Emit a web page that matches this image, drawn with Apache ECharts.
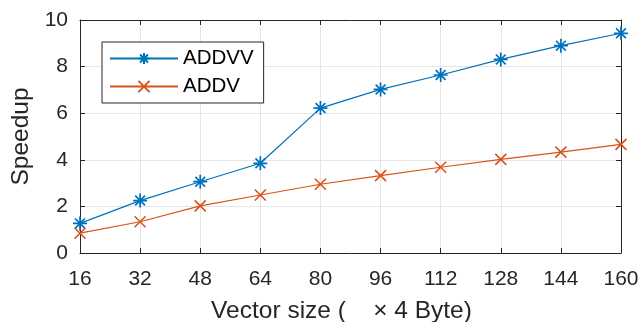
<!DOCTYPE html>
<html><head><meta charset="utf-8">
<script src="https://cdn.jsdelivr.net/npm/echarts@6/dist/echarts.min.js"></script>
<style>html,body{margin:0;padding:0;background:#fff}#c{width:641px;height:322px}</style>
</head><body><div id="c"></div>
<script>
const categories = [16, 32, 48, 64, 80, 96, 112, 128, 144, 160];
const addvv = [1.27, 2.25, 3.06, 3.85, 6.22, 7.02, 7.64, 8.31, 8.9, 9.43];
const addv = [0.85, 1.34, 2.02, 2.49, 2.95, 3.32, 3.68, 4.02, 4.33, 4.66];
const seriesNames = ['ADDVV', 'ADDV'];
const xTitle = 'Vector size (    \u00d7 4 Byte)';
const yTitle = 'Speedup';

const FONT = 'Liberation Sans';
const TXT = '#262626';
const star = 'path://M5,0L5,10M0,5L10,5M1.5,1.5L8.5,8.5M8.5,1.5L1.5,8.5';
const cross = 'path://M0,0L10,10M10,0L0,10';

const chart = echarts.init(document.getElementById('c'), null, {renderer: 'canvas'});
const pairs = arr => categories.map((x, i) => [x, arr[i]]);
const axisCommon = {
  axisLine: {show: true, onZero: false, lineStyle: {color: TXT, width: 1}},
  axisTick: {show: true, inside: true, length: 5, lineStyle: {color: TXT}},
};
chart.setOption({
  animation: false,
  backgroundColor: '#fff',
  grid: {left: 80, right: 20, top: 20, bottom: 69, containLabel: false, outerBoundsMode: 'none'},
  legend: {
    left: 102, top: 42, orient: 'vertical',
    borderColor: TXT, borderWidth: 1, backgroundColor: '#fff',
    padding: [6, 10, 6, 7], itemWidth: 68, itemHeight: 14, itemGap: 7,
    textStyle: {fontFamily: FONT, fontSize: 20.5, color: '#000', padding: [0, 0, 0, 0]},
    data: seriesNames
  },
  xAxis: [
    Object.assign({
      type: 'value', min: 16, max: 160, interval: 16, position: 'bottom',
      name: xTitle, nameLocation: 'middle', nameGap: 46,
      nameTextStyle: {fontFamily: FONT, fontSize: 24.5, color: TXT, padding: [0, 18, 0, 0]},
      axisLabel: {fontFamily: FONT, fontSize: 21, color: TXT, margin: 16},
      splitLine: {show: true, lineStyle: {color: '#e6e6e6', width: 1}}
    }, axisCommon),
    Object.assign({
      type: 'value', min: 16, max: 160, interval: 16, position: 'top',
      axisLabel: {show: false}, splitLine: {show: false}
    }, axisCommon)
  ],
  yAxis: [
    Object.assign({
      type: 'value', min: 0, max: 10, interval: 2, position: 'left',
      name: yTitle, nameLocation: 'middle', nameGap: 44,
      nameTextStyle: {fontFamily: FONT, fontSize: 24.5, color: TXT},
      axisLabel: {fontFamily: FONT, fontSize: 21, color: TXT, margin: 12},
      splitLine: {show: true, lineStyle: {color: '#e6e6e6', width: 1}}
    }, axisCommon),
    Object.assign({
      type: 'value', min: 0, max: 10, interval: 2, position: 'right',
      axisLabel: {show: false}, splitLine: {show: false}
    }, axisCommon)
  ],
  series: [
    {
      name: seriesNames[0], type: 'line', data: pairs(addvv),
      symbol: star, symbolSize: 14,
      lineStyle: {color: '#0072BD', width: 1.2},
      itemStyle: {color: 'none', borderColor: '#0072BD', borderWidth: 1.7}
    },
    {
      name: seriesNames[1], type: 'line', data: pairs(addv),
      symbol: cross, symbolSize: 11,
      lineStyle: {color: '#D95319', width: 1.2},
      itemStyle: {color: 'none', borderColor: '#D95319', borderWidth: 1.6}
    }
  ]
});
</script></body></html>
